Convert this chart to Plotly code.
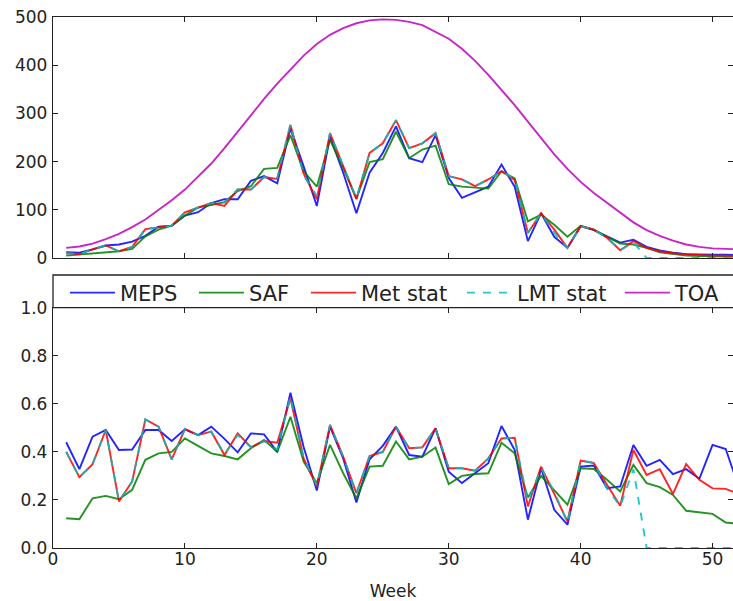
import plotly.graph_objects as go

weeks = list(range(1, 53))

toa = [21, 24, 30, 39, 50, 64, 80, 100, 120, 142, 168, 196, 228, 262, 297, 330,
       362, 392, 420, 444, 463, 477, 487, 493, 495, 494, 490, 483, 469, 455, 434,
       409, 380, 349, 317, 283, 248, 215, 185, 158, 135, 115, 95, 74, 58, 46, 36,
       28, 23, 20, 19, 18]

meps_irr = [12, 11, 18, 26, 28, 34, 46, 65, 67, 88, 95, 114, 122, 122, 160, 170,
            155, 269, 190, 108, 252, 177, 93, 177, 218, 273, 207, 199, 255, 166,
            125, 136, 148, 194, 148, 35, 93, 44, 21, 66, 58, 45, 32, 38, 23, 16,
            11, 8, 7, 7, 7, 6]
saf_irr = [5, 7, 10, 12, 14, 19, 45, 59, 67, 88, 105, 110, 116, 139, 149, 185,
           187, 255, 180, 148, 245, 187, 123, 199, 205, 262, 207, 225, 233, 153,
           148, 146, 144, 180, 165, 76, 90, 69, 44, 67, 59, 44, 30, 28, 21, 12,
           8, 5, 4, 3, 3, 3]
met_irr = [10, 8, 18, 26, 14, 23, 60, 64, 67, 95, 105, 114, 108, 142, 142, 168,
           164, 276, 175, 122, 259, 190, 122, 218, 238, 286, 228, 238, 259, 170,
           163, 149, 163, 180, 162, 52, 93, 59, 21, 66, 59, 42, 16, 35, 21, 14,
           10, 8, 6, 5, 5, 4]
lmt_irr = [10, 8, 18, 26, 14, 23, 60, 64, 67, 95, 105, 114, 115, 142, 142, 168,
           166, 278, 172, 129, 259, 190, 124, 218, 238, 286, 228, 238, 259, 170,
           163, 149, 163, 180, 164, 52, 93, 52, 21, 66, 59, 42, 16, 33, 0, 0,
           0, 0, 0, 0, 0, 0]

meps_ratio = [.44, .328, .463, .491, .408, .41, .491, .491, .445, .494, .47, .505,
              .454, .398, .477, .473, .40, .646, .42, .239, .505, .373, .189, .369,
              .425, .505, .387, .38, .498, .318, .27, .311, .353, .508, .408, .118,
              .332, .159, .097, .339, .343, .249, .256, .429, .342, .367, .307, .328,
              .288, .429, .412, .25]
saf_ratio = [.124, .12, .207, .217, .203, .242, .367, .394, .40, .456, .425, .394,
             .383, .369, .415, .45, .40, .546, .36, .27, .429, .311, .207, .339,
             .342, .443, .369, .38, .418, .266, .30, .308, .311, .438, .394, .21,
             .30, .239, .18, .332, .329, .284, .235, .346, .27, .253, .221, .155,
             .149, .142, .106, .10]
met_ratio = [.40, .295, .349, .491, .194, .277, .535, .505, .369, .495, .47, .484,
             .387, .477, .42, .445, .438, .622, .373, .256, .512, .38, .228, .383,
             .40, .505, .415, .419, .498, .332, .332, .322, .373, .456, .459, .173,
             .339, .225, .111, .364, .353, .263, .176, .408, .304, .328, .225, .349,
             .284, .248, .246, .225]
lmt_ratio = [.40, .295, .349, .491, .194, .277, .535, .505, .369, .495, .47, .484,
             .39, .47, .42, .445, .41, .63, .373, .26, .512, .38, .228, .383,
             .40, .505, .415, .419, .498, .332, .332, .322, .373, .456, .459, .194,
             .332, .235, .104, .364, .355, .249, .173, .328, 0, 0, 0, 0,
             0, 0, 0, 0]

tick_x = [0, 10, 20, 30, 40, 50]
tick_y_top = [0, 100, 200, 300, 400, 500]
tick_y_bot = [0.0, 0.2, 0.4, 0.6, 0.8, 1.0]

names = ["MEPS", "SAF", "Met stat", "LMT stat", "TOA"]
colors = ["#0000ff", "#008000", "#ff0000", "#00bfbf", "#bf00bf"]
legw = [69, 52, 96, 98, 47]

fig = go.Figure()
top_series = [meps_irr, saf_irr, met_irr, lmt_irr, toa]
bot_series = [meps_ratio, saf_ratio, met_ratio, lmt_ratio]
for i, (nm, ys) in enumerate(zip(names, top_series)):
    fig.add_trace(go.Scatter(
        x=weeks, y=ys, mode="lines", name=nm, xaxis="x", yaxis="y",
        line=dict(color=colors[i], width=1.9, dash="8px,8px" if nm == "LMT stat" else "solid"),
        opacity=0.85, legendgroup=nm, showlegend=True, legendwidth=legw[i]))
for i, ys in enumerate(bot_series):
    nm = names[i]
    fig.add_trace(go.Scatter(
        x=weeks, y=ys, mode="lines", name=nm, xaxis="x2", yaxis="y2",
        line=dict(color=colors[i], width=1.9, dash="8px,8px" if nm == "LMT stat" else "solid"),
        opacity=0.85, legendgroup=nm, showlegend=False))

axis_common = dict(showgrid=False, zeroline=False, showline=True, linecolor="#222",
                   linewidth=1.3, mirror="ticks", ticks="inside", ticklen=5,
                   tickcolor="#222", tickwidth=1, automargin=False,
                   tickfont=dict(family="DejaVu Sans", size=17, color="#222"))
xr = [0, 51.55]
fig.update_layout(
    width=733, height=601,
    margin=dict(l=53, r=0, t=17, b=53),
    plot_bgcolor="white", paper_bgcolor="white",
    xaxis=dict(domain=[0, 1], anchor="y", range=xr, tickvals=tick_x, showticklabels=False, **axis_common),
    yaxis=dict(domain=[0.5461, 1.0], anchor="x", range=[0, 500], tickvals=tick_y_top,
               ticklabelstandoff=1, **axis_common),
    xaxis2=dict(domain=[0, 1], anchor="y2", range=xr, tickvals=tick_x, ticklabelstandoff=-5,
                title=dict(text="Week", font=dict(family="DejaVu Sans", size=17, color="#222"), standoff=17),
                **axis_common),
    yaxis2=dict(domain=[0, 0.4525], anchor="x2", range=[0, 1.0], tickvals=tick_y_bot,
                tickformat=".1f", ticklabelstandoff=1, **axis_common),
    legend=dict(orientation="h", x=0.0176, xanchor="left", y=0.4802, yanchor="middle",
                font=dict(family="DejaVu Sans", size=21, color="#222"),
                itemwidth=45, bgcolor="rgba(0,0,0,0)", borderwidth=0,
                tracegroupgap=0, itemclick=False),
    shapes=[dict(type="rect", xref="paper", yref="paper", x0=0, x1=1.02, y0=0.4525, y1=0.5141,
                 line=dict(color="#222", width=1.3), fillcolor="rgba(0,0,0,0)", layer="above")],
)
fig.write_html("out.html", config={"displayModeBar": False},
               post_script="document.body.style.margin='0';document.body.style.overflow='hidden';")
